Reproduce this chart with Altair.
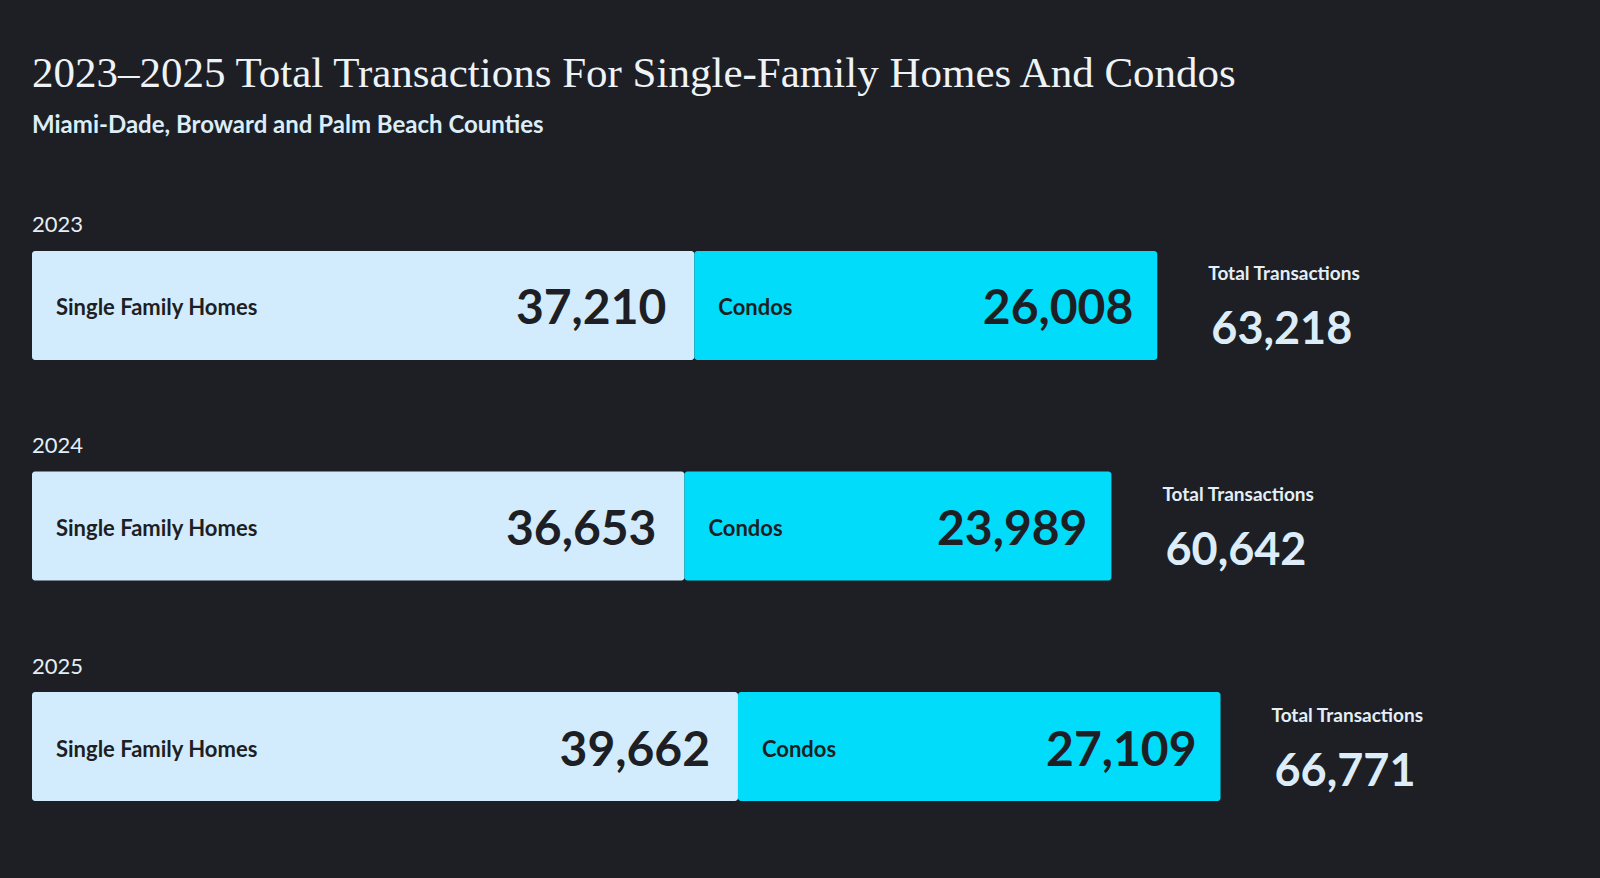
import altair as alt
import pandas as pd

years = ["2023", "2024", "2025"]
single_family = [37210, 36653, 39662]
condos = [26008, 23989, 27109]
totals = [63218, 60642, 66771]
sfh_label = "Single Family Homes"
condo_label = "Condos"
total_label = "Total Transactions"

df = pd.DataFrame({
    "year": years,
    "sfh": single_family,
    "condos": condos,
    "total": totals,
})
df["sfh_label"] = sfh_label
df["condo_label"] = condo_label
df["total_label"] = total_label

BG = "#1d1f24"
LIGHT = "#d3ecfd"
CYAN = "#00dcfa"
DARK = "#1d1f24"
TXT = "#e4eef6"
NUM = "#dcedf9"
SANS = "Lato"

xs = alt.Scale(domain=[0, 70000], range=[0, 1246], nice=False, zero=True)
ys = alt.Scale(domain=years, paddingInner=0.5057, paddingOuter=0.2313)

base = alt.Chart(df).encode(
    y=alt.Y("year:N", scale=ys, axis=None),
)

bar_sfh = base.mark_bar(color=LIGHT, cornerRadius=3).encode(
    x=alt.X("sfh:Q", scale=xs, axis=None),
    x2=alt.datum(0),
)
bar_condo = base.mark_bar(color=CYAN, cornerRadius=3).encode(
    x=alt.X("sfh:Q", scale=xs, axis=None),
    x2="total:Q",
)

year_txt = base.mark_text(
    align="left", baseline="middle", dy=-80, font=SANS, fontSize=22,
    fontWeight="normal", color=TXT,
).encode(x=alt.datum(0, scale=xs), text="year:N")

sfh_name = base.mark_text(
    align="left", baseline="middle", dx=24, dy=3, font=SANS, fontSize=22,
    fontWeight="bold", color=DARK,
).encode(x=alt.datum(0, scale=xs), text="sfh_label:N")

sfh_num = base.mark_text(
    align="right", baseline="middle", dx=-28, dy=5, font=SANS, fontSize=48,
    fontWeight="bold", color=DARK,
).encode(x=alt.X("sfh:Q", scale=xs), text=alt.Text("sfh:Q", format=","))

condo_name = base.mark_text(
    align="left", baseline="middle", dx=24, dy=3, font=SANS, fontSize=22,
    fontWeight="bold", color=DARK,
).encode(x=alt.X("sfh:Q", scale=xs), text="condo_label:N")

condo_num = base.mark_text(
    align="right", baseline="middle", dx=-24, dy=5, font=SANS, fontSize=48,
    fontWeight="bold", color=DARK,
).encode(x=alt.X("total:Q", scale=xs), text=alt.Text("condos:Q", format=","))

tot_name = base.mark_text(
    align="left", baseline="middle", dx=51, dy=-31, font=SANS, fontSize=19,
    fontWeight="bold", color=TXT,
).encode(x=alt.X("total:Q", scale=xs), text="total_label:N")

tot_num = base.mark_text(
    align="left", baseline="middle", dx=54, dy=25, font=SANS, fontSize=45,
    fontWeight="bold", color=NUM,
).encode(x=alt.X("total:Q", scale=xs), text=alt.Text("total:Q", format=","))

chart = alt.layer(
    bar_sfh, bar_condo, year_txt, sfh_name, sfh_num, condo_name, condo_num,
    tot_name, tot_num,
).properties(
    width=1246,
    height=652,
    autosize=alt.AutoSizeParams(type="none"),
    padding={"left": 32, "top": 200, "right": 322, "bottom": 26},
    background=BG,
    title=alt.TitleParams(
        text="2023\u20132025 Total Transactions For Single-Family Homes And Condos",
        subtitle="Miami-Dade, Broward and Palm Beach Counties",
        anchor="start",
        font="Liberation Serif",
        fontSize=43,
        fontWeight="normal",
        color="#eef3f7",
        subtitleFont=SANS,
        subtitleFontSize=24,
        subtitleFontWeight="bold",
        subtitleColor="#dcedf8",
        subtitlePadding=18,
        offset=62,
    ),
).configure_view(stroke=None)

chart.save("out.html", embed_options={"renderer": "svg", "actions": False})
